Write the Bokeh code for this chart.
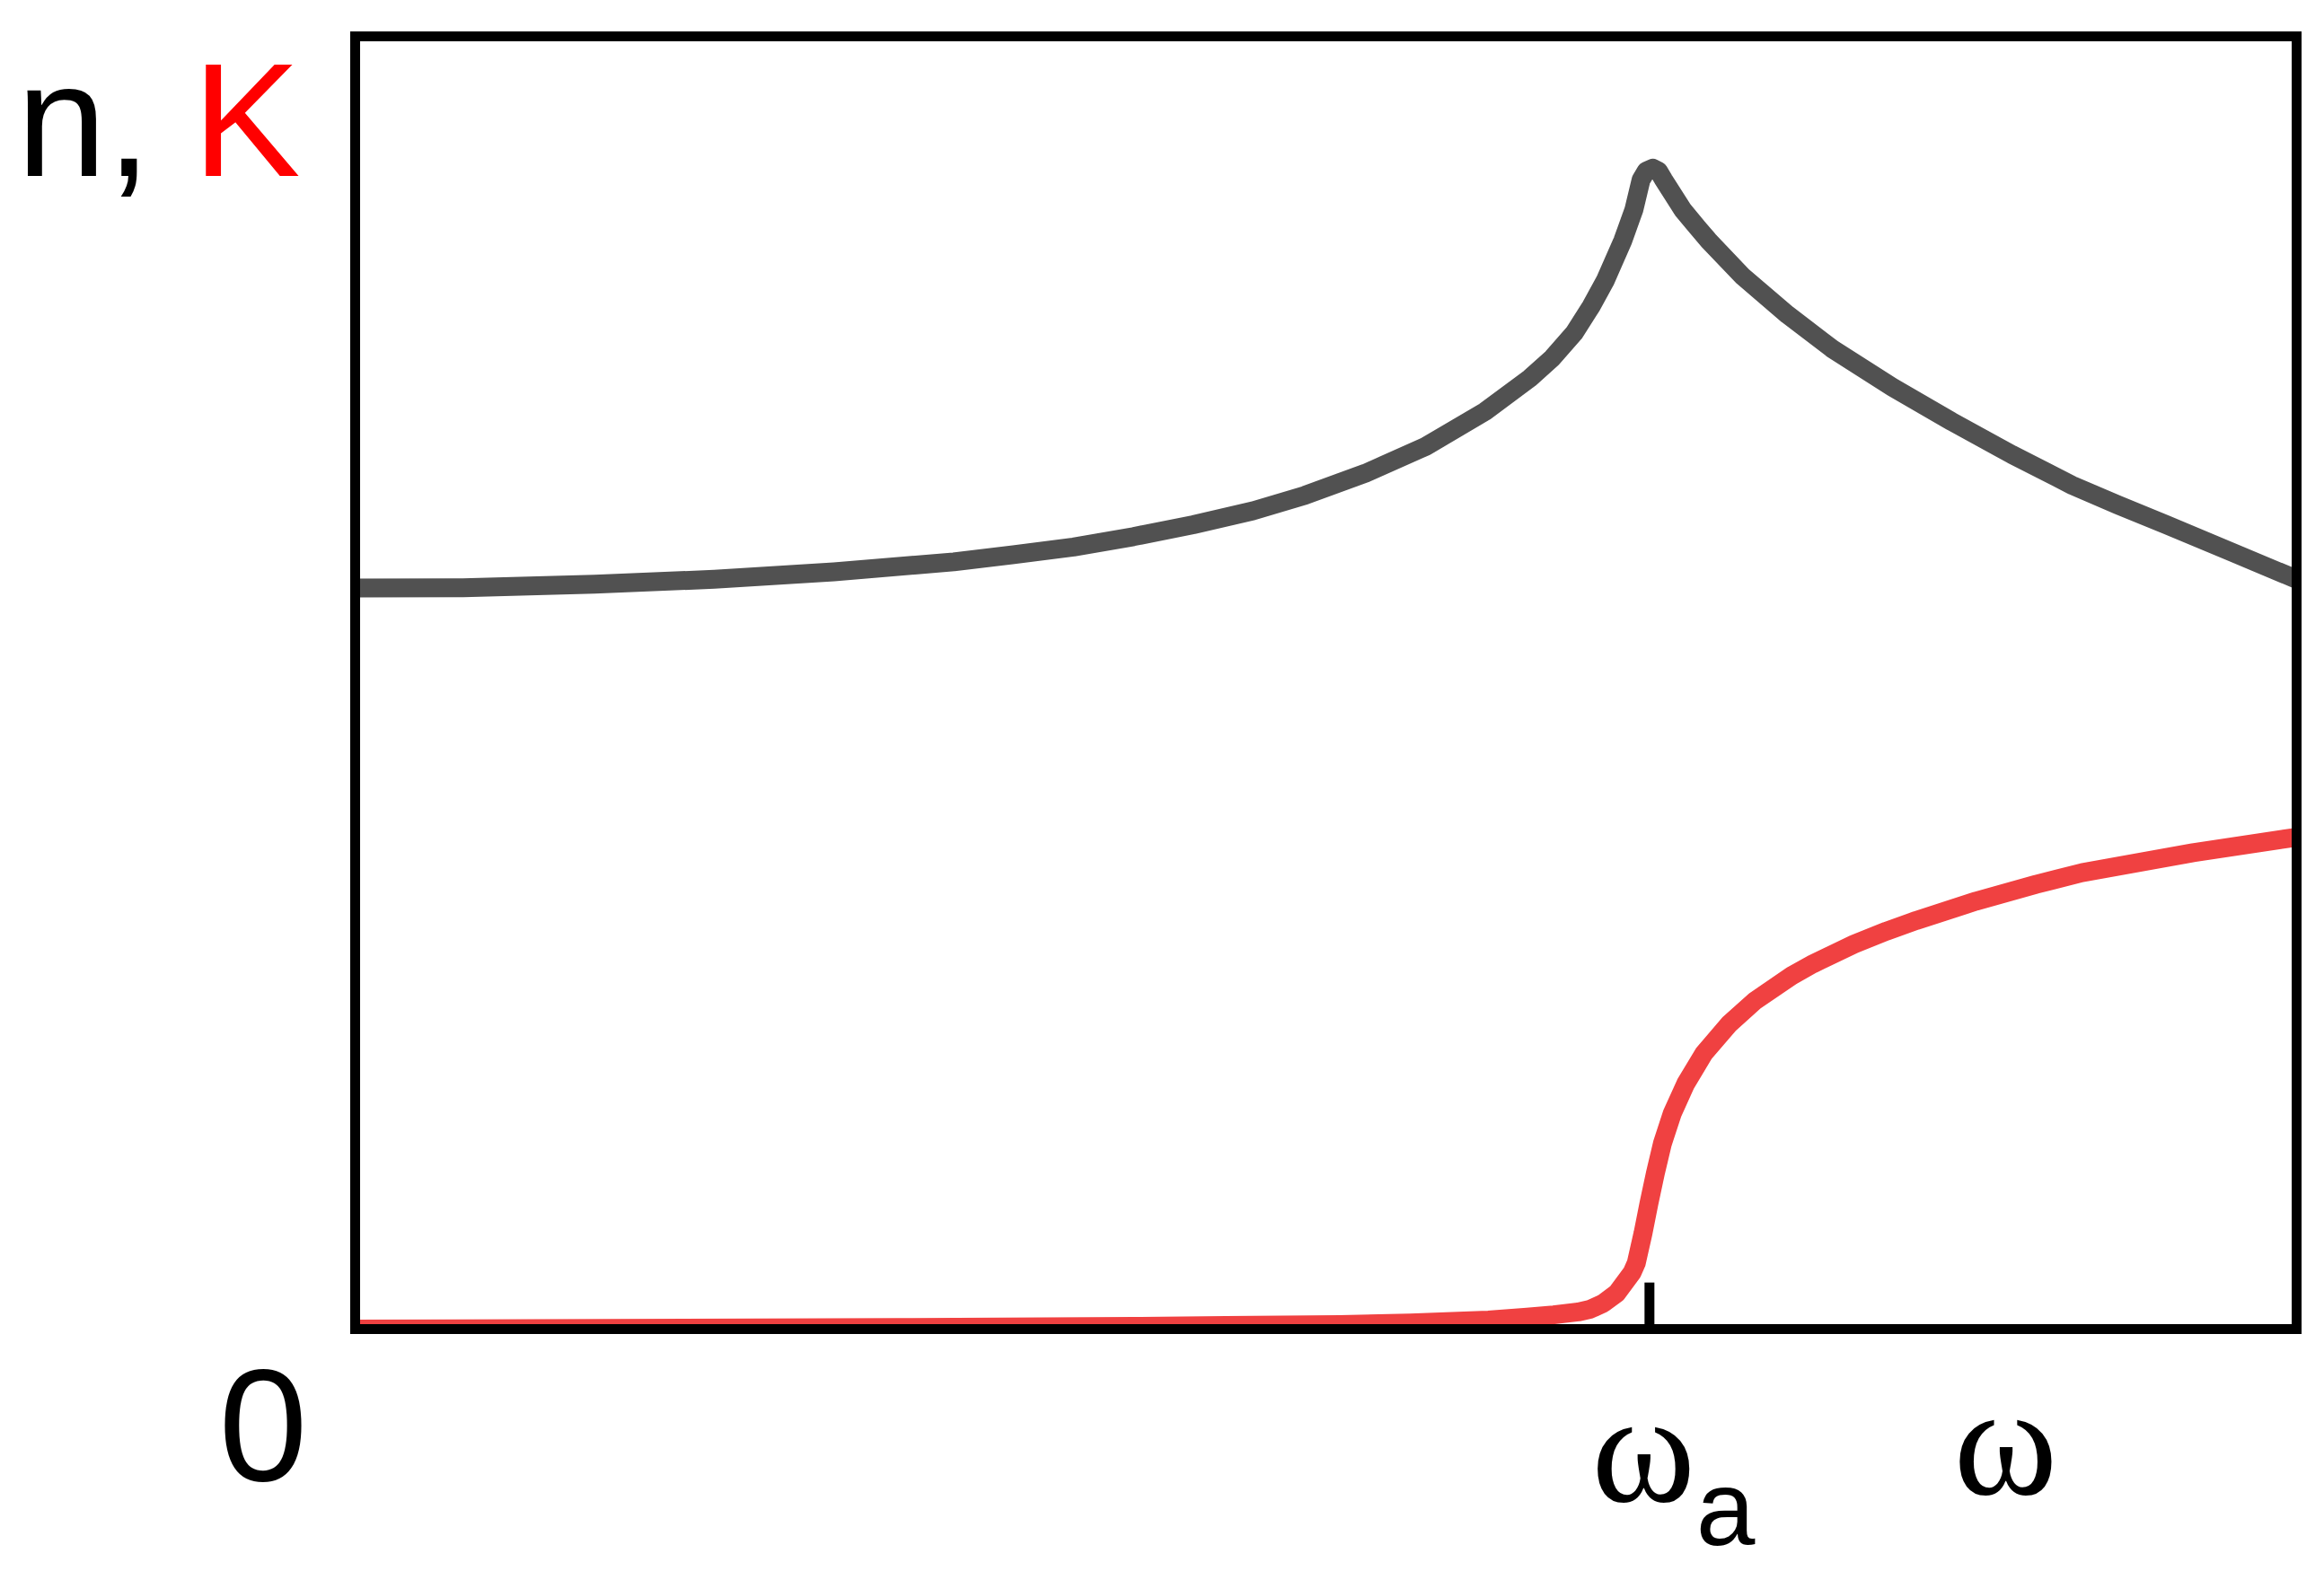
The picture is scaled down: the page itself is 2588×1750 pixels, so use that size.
from bokeh.plotting import figure
from bokeh.models import Range1d, Label
from bokeh.embed import file_html
from bokeh.resources import INLINE

# ---- data ----
# frequency axis: omega in units of omega_a (plot box spans 0 .. 1.5)
n_omega = [0.0, 0.0833, 0.185, 0.2775, 0.370, 0.4625, 0.5088, 0.555, 0.6013,
           0.6475, 0.6938, 0.734, 0.7805, 0.827, 0.8728, 0.9075, 0.925, 0.942,
           0.955, 0.9658, 0.9795, 0.988, 0.9935, 0.9975, 1.0026, 1.007, 1.011,
           1.0256, 1.0372, 1.0455, 1.0719, 1.1066, 1.1413, 1.1878, 1.2336,
           1.2801, 1.3266, 1.362, 1.3993, 1.4476, 1.5]
n_values = [2.293, 2.294, 2.305, 2.320, 2.343, 2.374, 2.396, 2.420, 2.452,
            2.489, 2.532, 2.580, 2.648, 2.731, 2.839, 2.942, 3.005, 3.083,
            3.165, 3.244, 3.369, 3.464, 3.556, 3.583, 3.592, 3.583, 3.556,
            3.464, 3.408, 3.369, 3.258, 3.139, 3.033, 2.914, 2.808,
            2.706, 2.611, 2.55, 2.489, 2.408, 2.32]

k_omega = [0.0, 0.42, 0.6015, 0.673, 0.761, 0.815, 0.8756, 0.9055, 0.926,
           0.945, 0.954, 0.9644, 0.9748, 0.9866, 0.9898, 0.995, 0.9996, 1.0045,
           1.01, 1.0176, 1.028, 1.0419, 1.0616, 1.081, 1.1098, 1.1263, 1.158,
           1.183, 1.206, 1.2523, 1.2986, 1.3342, 1.42, 1.5]
k_values = [0.0, 0.005, 0.008, 0.011, 0.014, 0.019, 0.028, 0.037, 0.044,
            0.053, 0.061, 0.080, 0.111, 0.175, 0.204, 0.296, 0.389, 0.481,
            0.574, 0.667, 0.759, 0.852, 0.944, 1.014, 1.093, 1.130, 1.191,
            1.231, 1.264, 1.324, 1.376, 1.412, 1.474, 1.522]

omega_a = 1.0
tick_height = 0.144
x_limits = [0.0, 1.5]
y_limits = [0.0, 4.0]

origin_label = "0"
omega_a_label = "\u03c9"
omega_a_sub = "a"
omega_label = "\u03c9"
y_label_n = "n, "
y_label_k = "K"

GRAY = "#515151"
RED = "#F04141"

# page geometry: plot box from x=395..2557 px, y=40..1480 px
W, H = 2584, 1746
PX_PER_X = 2162 / 1.5
PX_PER_Y = 1440 / 4.0

p = figure(width=W, height=H, output_backend="svg", toolbar_location=None,
           x_range=Range1d(-395 / PX_PER_X, (W - 395) / PX_PER_X),
           y_range=Range1d((1480 - H) / PX_PER_Y, 1480 / PX_PER_Y),
           x_axis_location=None, y_axis_location=None, min_border=0)
p.grid.visible = False
p.background_fill_color = "white"
p.border_fill_color = "white"
p.outline_line_color = None

p.line(n_omega, n_values, line_color=GRAY, line_width=21, line_join="round", line_cap="butt")
p.line(k_omega, k_values, line_color=RED, line_width=21, line_join="round", line_cap="butt")

# white strip under the box so curves stay inside it (as clipped in the original)
p.quad(left=[x_limits[0] - 0.02], right=[x_limits[1] + 0.02],
       top=[y_limits[0] - 5.5 / PX_PER_Y], bottom=[y_limits[0] - 0.08],
       fill_color="white", line_color=None)

# the plot box
p.quad(left=[x_limits[0]], right=[x_limits[1]], bottom=[y_limits[0]], top=[y_limits[1]],
       fill_color=None, line_color="black", line_width=11, line_join="miter")

# tick at omega_a
p.segment(x0=[omega_a], y0=[y_limits[0]], x1=[omega_a], y1=[tick_height],
          line_color="black", line_width=11, line_cap="butt")

sans = "Liberation Sans"
serif = "Liberation Serif"

def add_label(x, y, text, font, size, color, align):
    p.add_layout(Label(x=x, y=y, text=text, text_font=font,
                       text_font_size=size, text_color=color,
                       text_align=align, text_baseline="alphabetic"))

add_label(-0.2616, 3.742, y_label_n, sans, "180px", "black", "left")
add_label(-0.1256, 3.742, y_label_k, sans, "180px", "#FF0000", "left")
add_label(-0.0711, -0.297, origin_label, sans, "178px", "black", "center")
add_label(omega_a - 0.0047, -0.367, omega_a_label, serif, "176px", "black", "center")
add_label(1.0588, -0.555, omega_a_sub, sans, "118px", "black", "center")
add_label(1.2752, -0.344, omega_label, serif, "176px", "black", "center")

open("out.html", "w").write(file_html(p, INLINE))
